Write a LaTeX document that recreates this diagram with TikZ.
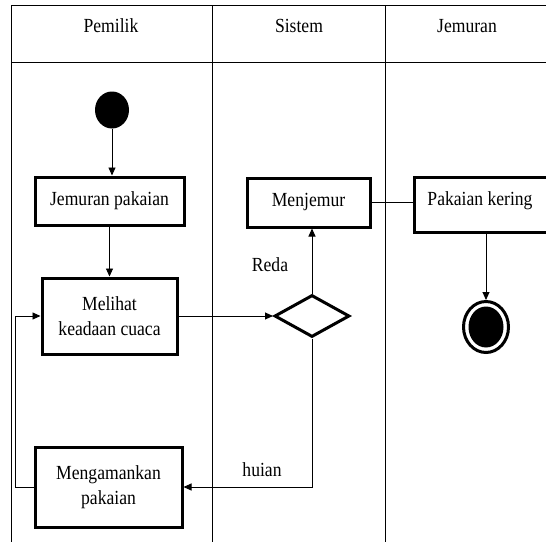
\documentclass[tikz,border=0pt]{standalone}
\usepackage{fontspec}
\setmainfont[FakeStretch=0.88]{Liberation Serif}
\usetikzlibrary{shapes.geometric, positioning, arrows.meta}

\begin{document}
\begin{tikzpicture}[x=1pt, y=-1pt,
    lane/.style={line width=0.8pt},
    actbox/.style={draw, line width=3pt, align=center, inner sep=0pt,
        font=\fontsize{20}{25}\selectfont},
    txt/.style={font=\fontsize{20}{25}\selectfont, inner sep=0pt},
    flow/.style={line width=0.9pt, -{Triangle[length=8pt, width=7pt]}},
    plain/.style={line width=0.9pt}]
                \useasboundingbox (0,0) rectangle (546,541);
                \draw[lane] (11,5) -- (550,5);
                \draw[lane] (11,62) -- (550,62);
                \foreach \x in {11,212,385} {
                    \draw[lane] (\x,5) -- (\x,545);
                }
                \node[txt] (hPemilik) at (111,26) {Pemilik};
                \node[txt] (hSistem) at (299,26) {Sistem};
                \node[txt] (hJemuran) at (467,26) {Jemuran};
                \node[ellipse, fill, minimum width=34pt, minimum height=37pt, inner sep=0pt] (start) at (112,110) {};
                \node[actbox, minimum width=149pt, minimum height=48pt] (jemuran) at (109.5,201) {Jemuran pakaian};
                \node[actbox, minimum width=135pt, minimum height=76pt] (melihat) at (109.5,316) {Melihat\\keadaan cuaca};
                \node[actbox, minimum width=147pt, minimum height=80pt] (amankan) at (108.5,487) {Mengamankan\\pakaian};
                \node[actbox, minimum width=123pt, minimum height=49pt] (menjemur) at (308.5,202.5) {Menjemur};
                \node[diamond, draw, line width=3pt, minimum width=75pt, minimum height=42pt, inner sep=0pt] (cek) at (312,316) {};
                \node[actbox, minimum width=134pt, minimum height=55pt] (kering) at (481,204.5) {};
                \node[txt] (keringText) at (480,201) {Pakaian kering};
                \node[ellipse, draw, line width=3pt, minimum width=45pt, minimum height=51pt, inner sep=0pt] (finish) at (486,327) {};
                \node[ellipse, fill, minimum width=35pt, minimum height=41pt, inner sep=0pt] (finishDot) at (finish.center) {};
                \node[txt] (reda) at (270,265) {Reda};
                \node[txt] (huian) at (262,470) {huian};
                \draw[flow] (start.south) -- (start.south |- jemuran.north);
                \draw[flow] (jemuran.south) -- (melihat.north);
                \draw[flow] (melihat.east) -- (cek.west);
                \draw[flow] (cek.north) -- (cek.north |- menjemur.south);
                \draw[plain] (menjemur.east) -- (menjemur.east -| kering.west);
                \draw[flow] (finish.north |- kering.south) -- (finish.north);
                \draw[flow] (cek.south) |- (amankan.east);
                \draw[flow] (amankan.west) -- ++(-18,0) |- (melihat.west);
            \end{tikzpicture}
\end{document}
